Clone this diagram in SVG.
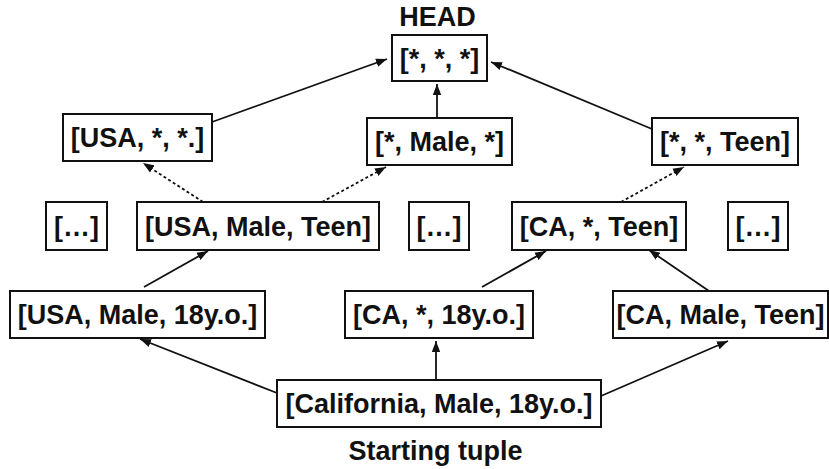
<svg xmlns="http://www.w3.org/2000/svg" width="829" height="469" viewBox="0 0 829 469">
<style>
.box{fill:#fff;stroke:#111;stroke-width:2}
.t{font-family:"Liberation Sans",Arial,sans-serif;font-weight:bold;font-size:27px;fill:#111;text-anchor:middle}
.c{stroke:#111;stroke-width:1.8;fill:none}
.d{stroke-dasharray:3 2.5}
</style>
<defs>
<marker id="ah" markerUnits="userSpaceOnUse" markerWidth="12" markerHeight="10" refX="11" refY="5" orient="auto">
<path d="M0,0.8 L11,5 L0,9.2 Z" fill="#111"/>
</marker>
</defs>
<g id="connectors">
<line class="c" x1="212" y1="122" x2="387" y2="59" marker-end="url(#ah)"/>
<line class="c" x1="437" y1="118" x2="437" y2="84" marker-end="url(#ah)"/>
<line class="c" x1="652" y1="129" x2="491" y2="62" marker-end="url(#ah)"/>
<line class="c d" x1="203" y1="202" x2="143" y2="163" marker-end="url(#ah)"/>
<line class="c d" x1="322" y1="202" x2="386" y2="167" marker-end="url(#ah)"/>
<line class="c d" x1="621" y1="202" x2="684" y2="167" marker-end="url(#ah)"/>
<line class="c" x1="144" y1="287" x2="208" y2="251" marker-end="url(#ah)"/>
<line class="c" x1="482" y1="287" x2="546" y2="251" marker-end="url(#ah)"/>
<line class="c" x1="709" y1="291" x2="649" y2="250" marker-end="url(#ah)"/>
<line class="c" x1="277" y1="393" x2="140" y2="339" marker-end="url(#ah)"/>
<line class="c" x1="436" y1="380" x2="436" y2="341" marker-end="url(#ah)"/>
<line class="c" x1="601" y1="396" x2="728" y2="341" marker-end="url(#ah)"/>
</g>
<text class="t" x="437.5" y="26">HEAD</text>
<g id="head"><rect class="box" x="392" y="35" width="95" height="46"/><text class="t" x="439.5" y="67.5">[*, *, *]</text></g>
<g id="usa_any_any"><rect class="box" x="63" y="114" width="149" height="47"/><text class="t" x="137.5" y="147">[USA, *, *.]</text></g>
<g id="any_male_any"><rect class="box" x="367" y="118" width="145" height="47"/><text class="t" x="439.5" y="151">[*, Male, *]</text></g>
<g id="any_any_teen"><rect class="box" x="652" y="118" width="146" height="47"/><text class="t" x="725" y="151">[*, *, Teen]</text></g>
<g id="ellipsis1"><rect class="box" x="46" y="202" width="61" height="48"/><text class="t" x="76.5" y="235.5">[…]</text></g>
<g id="usa_male_teen"><rect class="box" x="137" y="202" width="242" height="48"/><text class="t" x="258" y="235.5">[USA, Male, Teen]</text></g>
<g id="ellipsis2"><rect class="box" x="409" y="202" width="60" height="48"/><text class="t" x="439" y="235.5">[…]</text></g>
<g id="ca_any_teen"><rect class="box" x="512" y="202" width="174" height="48"/><text class="t" x="599" y="235.5">[CA, *, Teen]</text></g>
<g id="ellipsis3"><rect class="box" x="728" y="202" width="60" height="48"/><text class="t" x="758" y="235.5">[…]</text></g>
<g id="usa_male_18"><rect class="box" x="10" y="291" width="255" height="47"/><text class="t" x="137.5" y="324">[USA, Male, 18y.o.]</text></g>
<g id="ca_any_18"><rect class="box" x="345" y="291" width="188" height="47"/><text class="t" x="439" y="324">[CA, *, 18y.o.]</text></g>
<g id="ca_male_teen"><rect class="box" x="613" y="291" width="215" height="47"/><text class="t" x="720.5" y="324">[CA, Male, Teen]</text></g>
<g id="start"><rect class="box" x="277" y="380" width="324" height="47"/><text class="t" x="439" y="413">[California, Male, 18y.o.]</text></g>
<text class="t" x="435.5" y="460">Starting tuple</text>
</svg>
